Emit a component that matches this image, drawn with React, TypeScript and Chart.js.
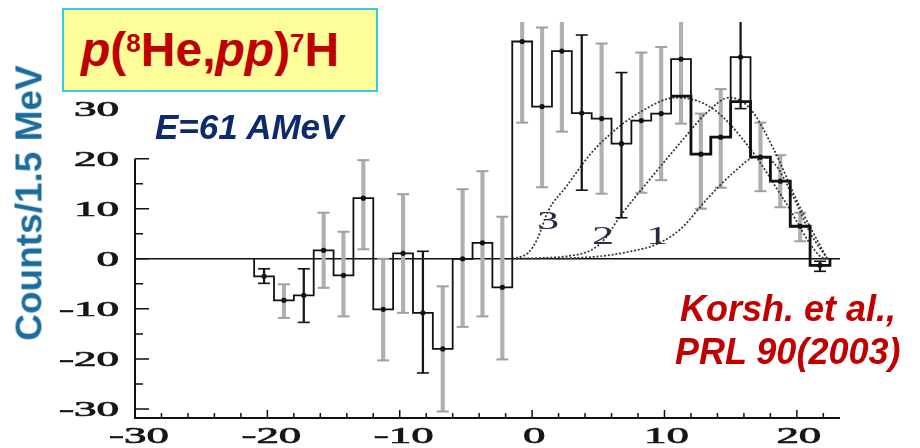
import React, { useEffect, useRef } from "react";
import { Chart, registerables } from "chart.js";

Chart.register(...registerables);

// ---- data ----
const binCenters = [-20.25, -18.75, -17.25, -15.75, -14.25, -12.75, -11.25, -9.75, -8.25, -6.75, -5.25, -3.75, -2.25, -0.75, 0.75, 2.25, 3.75, 5.25, 6.75, 8.25, 9.75, 11.25, 12.75, 14.25, 15.75, 17.25, 18.75, 20.25, 21.75];
const counts = [-3.5, -8.3, -7.3, 1.7, -3.3, 12.1, -10.1, 1.1, -10.8, -18.0, 0, 3.2, -5.7, 43.4, 30.4, 41.5, 29.1, 28.0, 23.0, 27.6, 29.0, 39.9, 20.9, 24.3, 40.3, 20.3, 15.5, 6.5, -1.3];
const errLow = [-4.9, -11.8, -12.7, -5.8, -11.5, 1.9, -20.3, -10.8, -22.8, -30.5, -13.6, -11.5, -20.1, 27.2, 14.3, 25.4, 13.7, 13.0, 8.2, 13.2, 15.7, 27.0, 10.0, 14.2, 30.0, 13.5, 10.3, 3.5, -2.5];
const errHigh = [-2.0, -5.1, -2.0, 9.2, 5.4, 19.7, 0, 12.9, 1.5, -5.5, 13.9, 17.5, 8.4, 59, 46.2, 58, 44.7, 43.0, 37.2, 41.2, 42.3, 53, 29.0, 33.9, 55, 27.2, 20.7, 9.2, -0.5];
const errDark = [1, 0, 1, 0, 0, 0, 0, 0, 1, 0, 0, 0, 0, 0, 0, 0, 1, 0, 1, 0, 0, 0, 0, 0, 1, 0, 0, 0, 1];

const simCenters = [11.25, 12.75, 14.25, 15.75, 17.25, 18.75, 20.25, 21.75];
const simCounts = [32.5, 20.9, 24.3, 31.4, 20.3, 15.5, 6.5, -1.3];

const curve1X = [2, 5.1, 7.5, 9.4, 11.2, 13.2, 15.2, 17.0, 18.25, 19.7, 21.0, 22.3];
const curve1Y = [0, 0.5, 1.5, 2.9, 5.9, 11.9, 17.2, 20.4, 19.2, 12.5, 5.2, 0];
const curve2X = [-1.5, 1.0, 2.6, 4.5, 5.5, 6.6, 8.9, 11.2, 13.2, 14.9, 16.5, 18.25, 20.2, 22.3];
const curve2Y = [0, 0.2, 0.5, 1.8, 4.0, 8.3, 15.9, 23.2, 29.2, 32.2, 29.9, 21.9, 10.5, 0];
const curve3X = [-1.5, -0.3, 0.4, 1.2, 2.6, 4.4, 5.9, 8.1, 10.9, 13.7, 16.5, 19.0, 21.75, 22.3];
const curve3Y = [0, 1.2, 4.0, 9.5, 14.5, 20.9, 24.9, 29.2, 32.2, 29.9, 21.9, 11.9, 0.5, 0];

const xTickValues = [-30, -20, -10, 0, 10, 20];
const xMinorTicks = [-28, -26, -24, -22, -18, -16, -14, -12, -8, -6, -4, -2, 2, 4, 6, 8, 12, 14, 16, 18, 22];
const yTickValues = [-30, -20, -10, 0, 10, 20, 30];
const yMinorTicks = [-25, -15, -5, 5, 15];
const yAxisTop = 20;
const binWidth = 1.5;

function stepPoints(centers: number[], values: number[], startAtZero: boolean) {
  const pts: { x: number; y: number }[] = [];
  if (startAtZero) pts.push({ x: centers[0] - binWidth / 2, y: 0 });
  centers.forEach((c, i) => pts.push({ x: c - binWidth / 2, y: values[i] }));
  const last = centers[centers.length - 1] + binWidth / 2;
  pts.push({ x: last, y: values[values.length - 1] });
  pts.push({ x: last, y: 0 });
  return pts;
}

function curvePoints(xs: number[], ys: number[]) {
  return xs.map((x, i) => ({ x, y: ys[i] }));
}

const serif = '"Liberation Serif", "Times New Roman", serif';
const sans = '"Liberation Sans", Arial, sans-serif';

const axisPlugin = {
  id: "axisDecor",
  beforeDatasetsDraw(chart: any) {
    const { ctx, chartArea, scales } = chart;
    const py = scales.y.getPixelForValue(0);
    ctx.save();
    ctx.strokeStyle = "#111";
    ctx.lineWidth = 1.5;
    ctx.beginPath();
    ctx.moveTo(chartArea.left, py);
    ctx.lineTo(chartArea.right, py);
    ctx.stroke();
    ctx.restore();
  },
  afterDraw(chart: any) {
    const { ctx, chartArea, scales } = chart;
    const xs = scales.x;
    const ys = scales.y;
    const left = chartArea.left;
    const bottom = chartArea.bottom;
    ctx.save();
    ctx.strokeStyle = "#111";
    ctx.fillStyle = "#161616";
    // axis lines
    ctx.lineWidth = 2;
    ctx.beginPath();
    ctx.moveTo(left, ys.getPixelForValue(yAxisTop));
    ctx.lineTo(left, bottom);
    ctx.moveTo(left - 1, bottom);
    ctx.lineTo(chartArea.right, bottom);
    ctx.stroke();
    // y ticks (inward)
    ctx.lineWidth = 1.5;
    ctx.beginPath();
    yTickValues.forEach((v) => {
      if (v > yAxisTop) return;
      const p = ys.getPixelForValue(v);
      ctx.moveTo(left, p);
      ctx.lineTo(left + 14, p);
    });
    yMinorTicks.forEach((v) => {
      if (v > yAxisTop) return;
      const p = ys.getPixelForValue(v);
      ctx.moveTo(left, p);
      ctx.lineTo(left + 8, p);
    });
    // x ticks (inward)
    xTickValues.forEach((v) => {
      const p = xs.getPixelForValue(v);
      ctx.moveTo(p, bottom);
      ctx.lineTo(p, bottom - 8);
    });
    xMinorTicks.forEach((v) => {
      const p = xs.getPixelForValue(v);
      ctx.moveTo(p, bottom);
      ctx.lineTo(p, bottom - 5);
    });
    ctx.stroke();
    // tick labels (wide serif, slightly emboldened)
    ctx.strokeStyle = "#161616";
    ctx.lineWidth = 0.7;
    ctx.font = "20px " + serif;
    ctx.textAlign = "right";
    ctx.textBaseline = "alphabetic";
    yTickValues.forEach((v) => {
      const p = ys.getPixelForValue(v);
      ctx.save();
      ctx.translate(left - 16, p + 7);
      ctx.scale(2.25, 1);
      ctx.fillText(String(v), 0, 0);
      ctx.strokeText(String(v), 0, 0);
      ctx.restore();
    });
    ctx.font = "23px " + serif;
    ctx.textAlign = "center";
    xTickValues.forEach((v) => {
      const p = xs.getPixelForValue(v);
      ctx.save();
      ctx.translate(p + (v < 0 ? 4 : 2), bottom + 25);
      ctx.scale(1.95, 1);
      ctx.fillText(String(v), 0, 0);
      ctx.strokeText(String(v), 0, 0);
      ctx.restore();
    });
    ctx.restore();
  },
};

export default function App() {
  const canvasRef = useRef<HTMLCanvasElement | null>(null);

  useEffect(() => {
    const canvas = canvasRef.current;
    if (!canvas) return;

    const idx = binCenters.map((_, i) => i);
    const grayIdx = idx.filter((i) => !errDark[i]);
    const darkIdx = idx.filter((i) => errDark[i]);
    const bars = (ids: number[]) => ids.map((i) => ({ x: binCenters[i], y: [errLow[i], errHigh[i]] }));
    const caps = (ids: number[]) =>
      ids.flatMap((i) => [
        { x: binCenters[i], y: errLow[i] },
        { x: binCenters[i], y: errHigh[i] },
      ]);

    const curveStyle = {
      type: "line" as const,
      borderColor: "#333",
      borderWidth: 1.7,
      borderDash: [2, 1.8],
      pointRadius: 0,
      fill: false,
      cubicInterpolationMode: "monotone" as const,
      order: 40,
    };

    const chart = new Chart(canvas, {
      type: "scatter",
      data: {
        datasets: [
          {
            type: "bar",
            label: "errors (grey)",
            data: bars(grayIdx) as any,
            backgroundColor: "#b0b0b0",
            borderWidth: 0,
            barThickness: 3.5,
            grouped: false,
            order: 50,
          } as any,
          {
            type: "scatter",
            label: "caps (grey)",
            data: caps(grayIdx),
            pointStyle: "line",
            pointRadius: 6,
            borderColor: "#a0a0a0",
            borderWidth: 2,
            order: 45,
          } as any,
          { ...curveStyle, label: "1", data: curvePoints(curve1X, curve1Y) } as any,
          { ...curveStyle, label: "2", data: curvePoints(curve2X, curve2Y) } as any,
          { ...curveStyle, label: "3", data: curvePoints(curve3X, curve3Y) } as any,
          {
            type: "bar",
            label: "errors (black)",
            data: bars(darkIdx) as any,
            backgroundColor: "#151515",
            borderWidth: 0,
            barThickness: 1.6,
            grouped: false,
            order: 30,
          } as any,
          {
            type: "scatter",
            label: "caps (black)",
            data: caps(darkIdx),
            pointStyle: "line",
            pointRadius: 6,
            borderColor: "#151515",
            borderWidth: 1.6,
            order: 25,
          } as any,
          {
            type: "line",
            label: "data",
            data: stepPoints(binCenters, counts, true),
            stepped: true,
            borderColor: "#111",
            borderWidth: 1.8,
            pointRadius: 0,
            fill: false,
            order: 20,
          } as any,
          {
            type: "line",
            label: "sim",
            data: stepPoints(simCenters, simCounts, false),
            stepped: true,
            borderColor: "#111",
            borderWidth: 2.8,
            pointRadius: 0,
            fill: false,
            order: 15,
          } as any,
          {
            type: "scatter",
            label: "points",
            data: binCenters.map((c, i) => ({ x: c, y: counts[i] })),
            pointRadius: 2.6,
            pointBackgroundColor: "#111",
            pointBorderWidth: 0,
            order: 10,
          } as any,
        ],
      },
      options: {
        responsive: false,
        animation: false,
        events: [],
        layout: { padding: { left: 0, right: 80, top: 22, bottom: 0 } },
        plugins: { legend: { display: false }, tooltip: { enabled: false }, title: { display: false } },
        scales: {
          x: {
            type: "linear",
            min: -30,
            max: 23.26,
            offset: false,
            grid: { display: false },
            border: { display: false },
            ticks: { display: false },
            afterBuildTicks: (s: any) => {
              s.ticks = xTickValues.map((v) => ({ value: v }));
            },
            afterFit: (s: any) => {
              s.height = 30;
            },
          },
          y: {
            type: "linear",
            min: -31.8,
            max: 47.3,
            grid: { display: false },
            border: { display: false },
            ticks: { display: false },
            afterBuildTicks: (s: any) => {
              s.ticks = yTickValues.map((v) => ({ value: v }));
            },
            afterFit: (s: any) => {
              s.width = 135;
            },
          },
        },
      } as any,
      plugins: [axisPlugin],
    });

    return () => chart.destroy();
  }, []);

  const abs = (o: React.CSSProperties): React.CSSProperties => ({ position: "absolute", whiteSpace: "nowrap", ...o });
  const sup: React.CSSProperties = { fontSize: 26, position: "relative", top: -14 };
  const curveLabel = (left: number, top: number, text: string) => (
    <div
      style={abs({
        left,
        top,
        font: "26px " + serif,
        lineHeight: "26px",
        color: "#2a2a44",
        transform: "scaleX(1.7)",
        transformOrigin: "left top",
      })}
    >
      {text}
    </div>
  );

  return (
    <div style={{ position: "absolute", left: 0, top: 0, width: 920, height: 448, background: "#fff", overflow: "hidden" }}>
      <canvas ref={canvasRef} width={920} height={448} style={{ position: "absolute", left: 0, top: 0 }} />
      {curveLabel(537, 208, "3")}
      {curveLabel(592, 223, "2")}
      {curveLabel(646, 223, "1")}
      <div
        style={abs({
          left: 62,
          top: 8,
          width: 316,
          height: 84,
          boxSizing: "border-box",
          background: "#fdfd9a",
          border: "2px solid #36c9f2",
        })}
      />
      <div style={abs({ left: 81, top: 26, font: "bold 48px " + sans, lineHeight: "48px", color: "#c00000" })}>
        <i>p</i>(<span style={sup}>8</span>He,<i>pp</i>)<span style={sup}>7</span>H
      </div>
      <div style={abs({ left: 155, top: 109, font: "italic bold 35px " + sans, lineHeight: "35px", color: "#0d2a6b" })}>
        E=61 AMeV
      </div>
      <div style={abs({ left: 680, top: 291, font: "italic bold 36px " + sans, lineHeight: "36px", color: "#c00000" })}>
        Korsh. et al.,
      </div>
      <div style={abs({ left: 675, top: 334, font: "italic bold 36px " + sans, lineHeight: "36px", color: "#c00000" })}>
        PRL 90(2003)
      </div>
      <div
        style={abs({
          left: 29,
          top: 203,
          transform: "translate(-50%, -50%) rotate(-90deg)",
          font: "bold 37px " + sans,
          lineHeight: "37px",
          color: "#196c9c",
        })}
      >
        Counts/1.5 MeV
      </div>
    </div>
  );
}
